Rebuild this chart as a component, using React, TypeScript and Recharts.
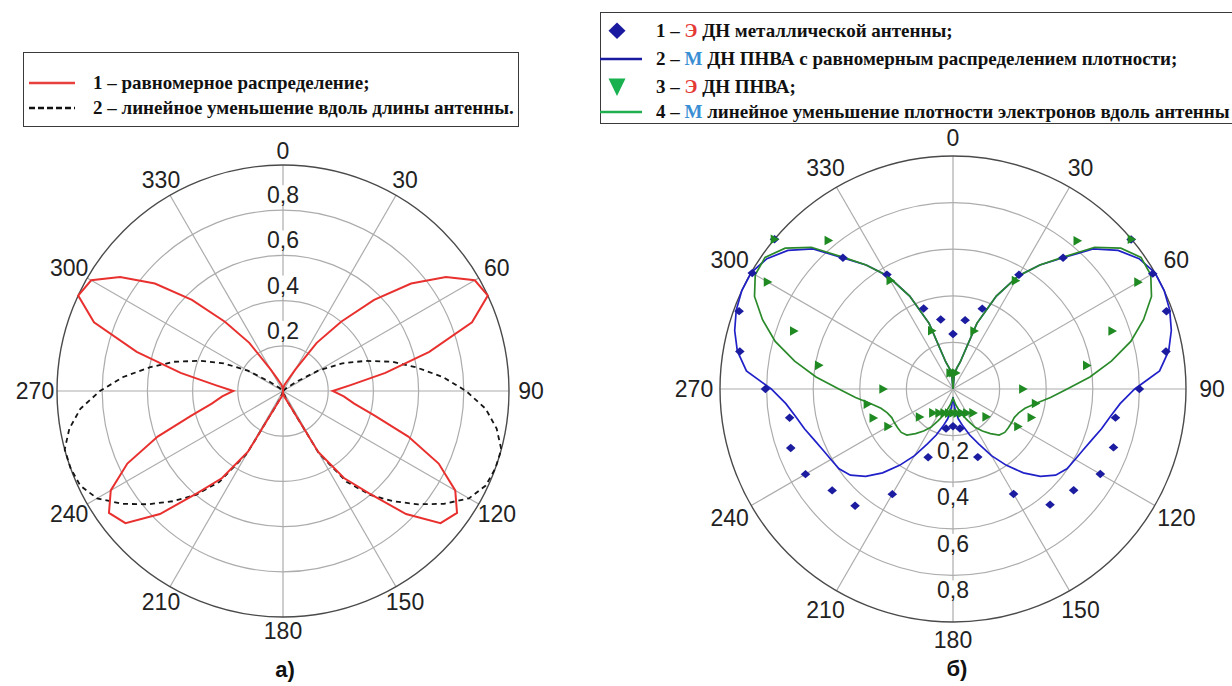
import React from 'react';
import { RadarChart, Radar, PolarGrid, PolarAngleAxis, PolarRadiusAxis } from 'recharts';

// compass angles (degrees clockwise from top)
const fineAngles = [
  0, 5, 10, 15, 20, 25, 30, 35, 40, 45, 50, 55, 60, 65, 70, 75, 80, 85,
  90, 95, 100, 105, 110, 115, 120, 125, 130, 135, 140, 145, 150, 155, 160, 165, 170, 175,
  180, 185, 190, 195, 200, 205, 210, 215, 220, 225, 230, 235, 240, 245, 250, 255, 260, 265,
  270, 275, 280, 285, 290, 295, 300, 305, 310, 315, 320, 325, 330, 335, 340, 345, 350, 355,
];
const coarseAngles = [
  0, 10, 20, 30, 40, 50, 60, 70, 80, 90, 100, 110, 120, 130, 140, 150, 160, 170,
  180, 190, 200, 210, 220, 230, 240, 250, 260, 270, 280, 290, 300, 310, 320, 330, 340, 350,
];
const radiusTicks = [0.2, 0.4, 0.6, 0.8];

// а) — 1: равномерное распределение
const uniformDist = [
  0, 0.01, 0.02, 0.03, 0.04, 0.06, 0.11, 0.26, 0.4, 0.57, 0.74, 0.88, 0.98, 1.0, 0.89, 0.67, 0.46, 0.3,
  0.22, 0.27, 0.32, 0.42, 0.59, 0.76, 0.88, 0.94, 0.91, 0.77, 0.59, 0.47, 0.31, 0.07, 0.04, 0.03, 0.02, 0.01,
  0, 0.01, 0.02, 0.03, 0.04, 0.07, 0.31, 0.47, 0.59, 0.77, 0.91, 0.94, 0.88, 0.76, 0.59, 0.42, 0.32, 0.27,
  0.22, 0.3, 0.46, 0.67, 0.89, 1.0, 0.98, 0.88, 0.74, 0.57, 0.4, 0.26, 0.11, 0.06, 0.04, 0.03, 0.02, 0.01,
];
// а) — 2: линейное уменьшение вдоль длины антенны
const linearDecrease = [
  0, 0, 0, 0, 0, 0, 0, 0, 0, 0, 0.02, 0.07, 0.18, 0.29, 0.39, 0.5, 0.6, 0.71,
  0.81, 0.9, 0.96, 1.0, 1.0, 0.99, 0.95, 0.87, 0.78, 0.69, 0.6, 0.49, 0.32, 0.07, 0.03, 0.01, 0, 0,
  0, 0, 0, 0.01, 0.03, 0.07, 0.32, 0.49, 0.6, 0.69, 0.78, 0.87, 0.95, 0.99, 1.0, 1.0, 0.96, 0.9,
  0.81, 0.71, 0.6, 0.5, 0.39, 0.29, 0.18, 0.07, 0.02, 0, 0, 0, 0, 0, 0, 0, 0, 0,
];

// б) — 2: М ДН ПНВА с равномерным распределением плотности
const pnvaUniformModel = [
  0, 0.06, 0.09, 0.12, 0.3, 0.44, 0.56, 0.65, 0.735, 0.85, 0.925, 0.975, 1.0, 1.0, 0.99, 0.97, 0.94, 0.89,
  0.78, 0.72, 0.685, 0.66, 0.635, 0.617, 0.605, 0.597, 0.575, 0.53, 0.47, 0.4, 0.33, 0.26, 0.21, 0.165, 0.13, 0.08,
  0.035, 0.08, 0.13, 0.165, 0.21, 0.26, 0.33, 0.4, 0.47, 0.53, 0.575, 0.597, 0.605, 0.617, 0.635, 0.66, 0.685, 0.72,
  0.78, 0.89, 0.94, 0.97, 0.99, 1.0, 1.0, 0.975, 0.925, 0.85, 0.735, 0.65, 0.56, 0.44, 0.3, 0.12, 0.09, 0.06,
];
// б) — 4: М линейное уменьшение плотности электронов
const pnvaLinearModel = [
  0, 0.06, 0.09, 0.12, 0.3, 0.44, 0.56, 0.65, 0.74, 0.86, 0.94, 0.985, 0.98, 0.94, 0.87, 0.79, 0.69, 0.59,
  0.49, 0.42, 0.36, 0.32, 0.3, 0.29, 0.29, 0.29, 0.29, 0.28, 0.25, 0.22, 0.19, 0.15, 0.12, 0.09, 0.07, 0.05,
  0.04, 0.05, 0.07, 0.09, 0.12, 0.15, 0.19, 0.22, 0.25, 0.28, 0.29, 0.29, 0.29, 0.29, 0.3, 0.32, 0.36, 0.42,
  0.49, 0.59, 0.69, 0.79, 0.87, 0.94, 0.98, 0.985, 0.94, 0.86, 0.74, 0.65, 0.56, 0.44, 0.3, 0.12, 0.09, 0.06,
];
// б) — 1: Э ДН металлической антенны
const metalMeasured = [
  0.236, 0.3, 0.367, 0.566, 0.735, 0.998, 0.99, 0.975, 0.928, 0.8, 0.708, 0.733, 0.73, 0.676, 0.648, 0.52, 0.311, 0.172,
  0.16, 0.172, 0.312, 0.521, 0.654, 0.677, 0.731, 0.741, 0.712, 0.805, 0.929, 0.977, 0.995, 1.0, 0.735, 0.567, 0.368, 0.303,
];
// б) — 3: Э ДН ПНВА
const pnvaMeasured = [
  0.07, 0.07, 0.265, 0.537, 0.83, 1.0, 0.917, 0.727, 0.583, 0.3, 0.36, 0.358, 0.322, 0.186, 0.134, 0.119, 0.11, 0.105,
  0.103, 0.105, 0.11, 0.119, 0.134, 0.187, 0.322, 0.364, 0.373, 0.3, 0.585, 0.727, 0.919, 1.0, 0.832, 0.538, 0.266, 0.07,
];

const leftRows = fineAngles.map((angle, i) => ({ angle, uniform: uniformDist[i], linear: linearDecrease[i] }));
const rightRows = fineAngles.map((angle, i) => ({ angle, blue: pnvaUniformModel[i], green: pnvaLinearModel[i] }));
const pointRows = coarseAngles.map((angle, i) => ({ angle, metal: metalMeasured[i], pnva: pnvaMeasured[i] }));

const SIZE = 600;
const C = SIZE / 2;
const LEFT = { x: 283, y: 391, r: 226 };
const RIGHT = { x: 953, y: 389, r: 233 };
const spokes = [90, 60, 30, 0, -30, -60, -90, -120, -150, -180, -210, -240];
const tickFont = "'Liberation Sans', Arial, sans-serif";
const serif = "'Liberation Serif', 'Times New Roman', serif";

const angleTick = (r: number, base: number) => (props: any) => {
  const v = Number(props?.payload?.value);
  if (v % 30 !== 0) return <g />;
  const rad = (v * Math.PI) / 180;
  const d = r + base + 8 * Math.abs(Math.sin(rad));
  return (
    <text x={C + d * Math.sin(rad)} y={C - d * Math.cos(rad)} textAnchor="middle" dominantBaseline="central"
      fontFamily={tickFont} fontSize={23} fill="#222">{v}</text>
  );
};

// radius labels sit just outside each ring, on a white patch
const radiusTick = (r: number, dir: number) => (props: any) => {
  const v = Number(props?.payload?.value);
  if (!(v > 0.05 && v < 0.95)) return <g />;
  const y = C + dir * (v * r + 15);
  return (
    <g>
      <rect x={C - 18} y={y - 10} width={36} height={20} fill="#fff" />
      <text x={C} y={y} textAnchor="middle" dominantBaseline="central" fontFamily={tickFont} fontSize={23} fill="#222">
        {v.toFixed(1).replace('.', ',')}
      </text>
    </g>
  );
};

const diamond = (p: any) => {
  if (p.cx == null || isNaN(p.cx)) return <g key={p.key} />;
  return <path key={p.key} d={`M${p.cx},${p.cy - 4.2}L${p.cx + 4.8},${p.cy}L${p.cx},${p.cy + 4.2}L${p.cx - 4.8},${p.cy}Z`} fill="#1c1ca0" />;
};
const triangle = (p: any) => {
  if (p.cx == null || isNaN(p.cx)) return <g key={p.key} />;
  return <path key={p.key} d={`M${p.cx - 3.8},${p.cy - 4.8}L${p.cx + 4.8},${p.cy}L${p.cx - 3.8},${p.cy + 4.8}Z`} fill="#1f8a22" />;
};

const Grid = ({ r }: { r: number }) => (
  <>
    <PolarGrid gridType="circle" polarAngles={spokes} polarRadius={radiusTicks.map((v) => v * r)} stroke="#acacac" strokeWidth={1.2} />
    <PolarGrid gridType="circle" radialLines={false} polarRadius={[r]} stroke="#4a4a4a" strokeWidth={1.4} />
  </>
);

const margin = { top: 0, right: 0, bottom: 0, left: 0 };

export default function App() {
  return (
    <div style={{ position: 'fixed', left: 0, top: 0, width: 1232, height: 686, overflow: 'hidden', background: '#fff' }}>
      {/* а) */}
      <div style={{ position: 'absolute', left: LEFT.x - C, top: LEFT.y - C }}>
        <RadarChart width={SIZE} height={SIZE} data={leftRows} cx={C} cy={C} outerRadius={LEFT.r} margin={margin}>
          <Grid r={LEFT.r} />
          <PolarAngleAxis dataKey="angle" axisLine={false} tickLine={false} tick={angleTick(LEFT.r, 14)} />
          <PolarRadiusAxis angle={90} type="number" domain={[0, 1]} ticks={radiusTicks} axisLine={false} tickLine={false} tick={radiusTick(LEFT.r, -1)} />
          <Radar dataKey="linear" stroke="#151515" strokeWidth={1.8} strokeDasharray="5 4" fill="none" dot={false} isAnimationActive={false} />
          <Radar dataKey="uniform" stroke="#e8312f" strokeWidth={2} fill="none" dot={false} isAnimationActive={false} />
        </RadarChart>
      </div>

      {/* б) */}
      <div style={{ position: 'absolute', left: RIGHT.x - C, top: RIGHT.y - C }}>
        <RadarChart width={SIZE} height={SIZE} data={rightRows} cx={C} cy={C} outerRadius={RIGHT.r} margin={margin}>
          <Grid r={RIGHT.r} />
          <PolarAngleAxis dataKey="angle" axisLine={false} tickLine={false} tick={angleTick(RIGHT.r, 18)} />
          <PolarRadiusAxis angle={-90} type="number" domain={[0, 1]} ticks={radiusTicks} axisLine={false} tickLine={false} tick={radiusTick(RIGHT.r, 1)} />
          <Radar dataKey="blue" stroke="#2020c8" strokeWidth={1.7} fill="none" dot={false} isAnimationActive={false} />
          <Radar dataKey="green" stroke="#2a8a2a" strokeWidth={1.7} fill="none" dot={false} isAnimationActive={false} />
        </RadarChart>
      </div>
      <div style={{ position: 'absolute', left: RIGHT.x - C, top: RIGHT.y - C }}>
        <RadarChart width={SIZE} height={SIZE} data={pointRows} cx={C} cy={C} outerRadius={RIGHT.r} margin={margin}>
          <PolarAngleAxis dataKey="angle" axisLine={false} tickLine={false} tick={false} />
          <PolarRadiusAxis type="number" domain={[0, 1]} axisLine={false} tickLine={false} tick={false} />
          <Radar dataKey="metal" stroke="none" fill="none" dot={diamond} isAnimationActive={false} />
          <Radar dataKey="pnva" stroke="none" fill="none" dot={triangle} isAnimationActive={false} />
        </RadarChart>
      </div>

      {/* legends */}
      <div style={{ position: 'absolute', left: 23, top: 52, width: 496, height: 75, border: '1.5px solid #3a3a3a', boxSizing: 'border-box', background: '#fff' }} />
      <div style={{ position: 'absolute', left: 600, top: 12, width: 700, height: 112, border: '1.5px solid #3a3a3a', boxSizing: 'border-box', background: '#fff' }} />
      <svg width={1232} height={140} style={{ position: 'absolute', left: 0, top: 0 }}>
        <line x1={29} x2={75} y1={83} y2={83} stroke="#e8403c" strokeWidth={2.5} />
        <line x1={29} x2={75} y1={108} y2={108} stroke="#111" strokeWidth={2.5} strokeDasharray="6 3" />
        <path d="M617,22.5L625.5,30.7L617,39L608.5,30.7Z" fill="#1a1aa0" />
        <line x1={600} x2={642} y1={59} y2={59} stroke="#1a1aa0" strokeWidth={2.5} />
        <path d="M608.5,78.5L625.5,78.5L617,96Z" fill="#19b04f" />
        <line x1={600} x2={642} y1={112} y2={112} stroke="#22b04e" strokeWidth={2.5} />
      </svg>
      {[
        { y: 83, x: 93, parts: [['1 – равномерное распределение;', '#111']] },
        { y: 108, x: 93, parts: [['2 – линейное уменьшение вдоль длины антенны.', '#111']] },
        { y: 31, x: 656, parts: [['1 – ', '#111'], ['Э', '#e53935'], [' ДН металлической антенны;', '#111']] },
        { y: 59, x: 656, parts: [['2 – ', '#111'], ['М', '#3a8fd4'], [' ДН ПНВА с равномерным распределением плотности;', '#111']] },
        { y: 87, x: 656, parts: [['3 – ', '#111'], ['Э', '#e53935'], [' ДН ПНВА;', '#111']] },
        { y: 112, x: 656, parts: [['4 – ', '#111'], ['М', '#3a8fd4'], [' линейное уменьшение плотности электронов вдоль антенны', '#111']] },
      ].map((row, i) => (
        <div key={i} style={{ position: 'absolute', left: row.x, top: row.y - 11, height: 22, lineHeight: '22px', whiteSpace: 'nowrap', fontFamily: serif, fontWeight: 'bold', fontSize: 19 }}>
          {row.parts.map(([t, c], j) => <span key={j} style={{ color: c }}>{t}</span>)}
        </div>
      ))}

      {/* captions */}
      <div style={{ position: 'absolute', left: 255, top: 658, width: 60, textAlign: 'center', fontFamily: tickFont, fontWeight: 'bold', fontSize: 22, lineHeight: '24px', color: '#111' }}>а)</div>
      <div style={{ position: 'absolute', left: 927, top: 657, width: 60, textAlign: 'center', fontFamily: tickFont, fontWeight: 'bold', fontSize: 22, lineHeight: '24px', color: '#111' }}>б)</div>
    </div>
  );
}
